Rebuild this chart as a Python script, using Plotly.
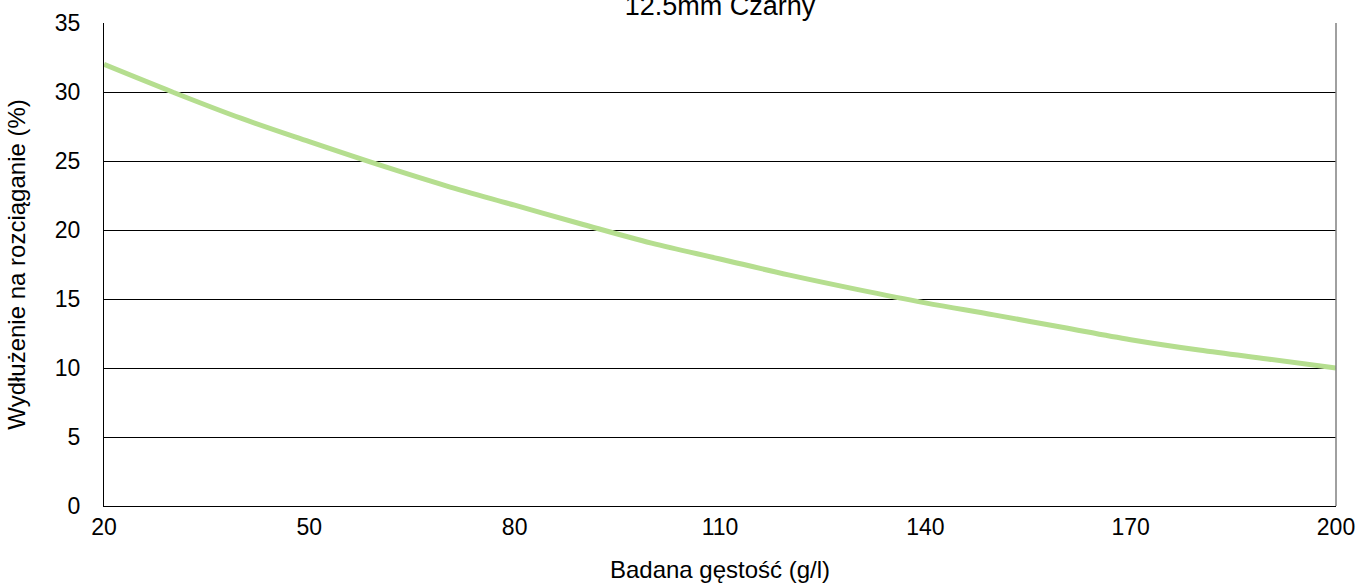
import plotly.graph_objects as go

density = [20, 30, 40, 50, 60, 70, 80, 90, 100, 110, 120, 130, 140, 150, 160, 170, 180, 190, 200]
elongation = [32.0, 30.0, 28.1, 26.4, 24.75, 23.2, 21.8, 20.4, 19.05, 17.9, 16.75, 15.7, 14.72, 13.85, 12.95, 12.05, 11.3, 10.65, 10.0]

x_ticks = [20, 50, 80, 110, 140, 170, 200]
y_ticks = [0, 5, 10, 15, 20, 25, 30, 35]

FONT = "Liberation Sans, Arial, sans-serif"

fig = go.Figure()
fig.add_trace(go.Scatter(
    x=density, y=elongation, mode="lines",
    line=dict(color="#B5DE8F", width=5, shape="spline"),
    showlegend=False, hoverinfo="x+y",
))

fig.update_layout(
    width=1360, height=583,
    margin=dict(l=104, r=24, t=23, b=77, autoexpand=False),
    paper_bgcolor="white", plot_bgcolor="white",
    font=dict(family=FONT, size=22, color="black"),
    title=dict(text="12.5mm Czarny", x=0.5294, xanchor="center",
               yref="container", y=0.99, yanchor="middle",
               font=dict(family=FONT, size=27, color="black")),
    xaxis=dict(range=[20, 200], tickvals=x_ticks, ticktext=[str(v) for v in x_ticks],
               showgrid=False, zeroline=False, showline=True, linecolor="black", linewidth=1,
               ticks="", ticklen=0, tickfont=dict(size=23), ticklabelstandoff=0,
               title=dict(text="Badana gęstość (g/l)", font=dict(size=24), standoff=27)),
    yaxis=dict(range=[0, 35], tickvals=y_ticks, showgrid=True, gridcolor="black", gridwidth=1,
               zeroline=False, showline=True, linecolor="black", linewidth=1,
               ticks="", ticklen=0, tickfont=dict(size=23), ticklabelstandoff=18,
               title=dict(text="Wydłużenie na rozciąganie (%)", font=dict(size=24), standoff=22)),
)
fig.add_shape(type="line", xref="paper", yref="paper", x0=1, x1=1, y0=0, y1=1,
              line=dict(color="#808080", width=1.5))

fig.write_html("out.html", config={"displayModeBar": False},
               post_script="document.body.style.margin='0';document.body.style.overflow='hidden';")
